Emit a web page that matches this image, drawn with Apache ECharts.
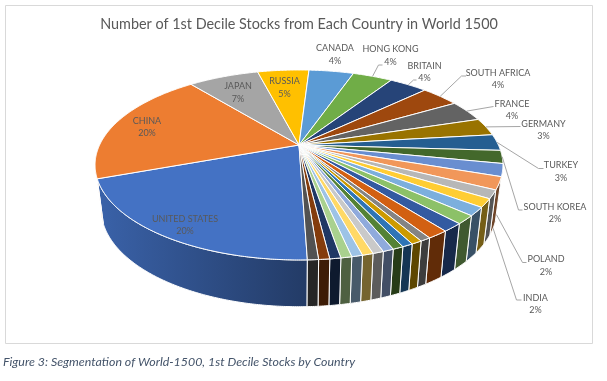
<!DOCTYPE html>
<html>
<head>
<meta charset="utf-8">
<style>
  html, body { margin: 0; padding: 0; background: #fff; }
  #chart { width: 607px; height: 381px; }
</style>
</head>
<body>
<div id="chart"></div>
<script src="https://cdn.jsdelivr.net/npm/echarts@6/dist/echarts.min.js"></script>
<script>
const titleText = "Number of 1st Decile Stocks from Each Country in World 1500";
const captionText = "Figure 3: Segmentation of World-1500, 1st Decile Stocks by Country";

// only the first 14 slices carry a label in the picture
const countries = ["UNITED STATES", "CHINA", "JAPAN", "RUSSIA", "CANADA", "HONG KONG", "BRITAIN",
  "SOUTH AFRICA", "FRANCE", "GERMANY", "TURKEY", "SOUTH KOREA", "POLAND", "INDIA"];
const stocks = [28, 27.8, 9.6, 7, 6.1, 5.4, 5.2, 5.2, 5.1, 4.2, 3.9, 3.1, 3, 3, 2, 2, 2, 2, 2, 2, 1, 1, 1, 1, 1, 1, 1, 1, 1, 1, 1, 1];
const colors = ["#4472C4", "#ED7D31", "#A5A5A5", "#FFC000", "#5B9BD5", "#70AD47", "#264478", "#9E480E",
  "#636363", "#997300", "#255E91", "#43682B", "#698ED0", "#F1975A", "#B7B7B7", "#FFCD33", "#7CAFDD", "#8CC168",
  "#335AA1", "#D26012", "#848484", "#CC9A00", "#2E75B6", "#548235", "#8FAADC", "#C9C9C9", "#FFD966", "#9DC3E6",
  "#A9D18E", "#1F3864", "#843C0C", "#525252"];

// label centres and leader elbows, same order as countries
const labelCenters = [[185, 225], [147, 127], [238, 92.5], [284.5, 87.5], [335, 54.5], [390.5, 55.5], [424.5, 72],
  [498, 79], [512, 110], [543.5, 130], [561, 171.5], [555, 213], [546, 265.5], [535.5, 304]];
const leaders = [null, null, null, null, null,
  [[378.5, 65], [382.5, 65]],
  [[413.5, 80], [416.5, 80]],
  [[461.5, 76], [466, 76]],
  [[493.5, 106.5]],
  [[520.5, 126.5]],
  [[538.5, 168.5], [543.5, 168.5]],
  [[518.5, 210], [522.5, 210]],
  [[522.5, 262.5], [526.5, 262.5]],
  [[516.5, 300], [521.5, 300]]];
const leaderFromBase = ["POLAND", "INDIA"];

const firstAngle = 178.1;
const persp = 0.21;
const topDisc = { cx: 299, cy: 145, a: 199.4, b: 90.8 };
const baseDisc = { cx: 299, cy: 189, a: 193.4, b: 93 };
const wallFrom = 462; // 102deg, on the same unwrapped scale as the slices

const total = stocks.reduce((s, v) => s + v, 0);
const angles = [];
let run = firstAngle;
stocks.forEach((v) => {
  angles.push([run, run + v / total * 360]);
  run += v / total * 360;
});

function project (disc, deg) {
  const r = deg * Math.PI / 180;
  const w = 1 + persp * Math.cos(r);
  return [disc.cx + disc.a * Math.sin(r) / w, disc.cy - disc.b * Math.cos(r) / w];
}

function arc (disc, from, to) {
  const pts = [];
  const n = Math.max(1, Math.ceil((to - from) / 0.5));
  for (let i = 0; i <= n; i++) pts.push(project(disc, from + (to - from) * i / n));
  return pts;
}

function shade (hex, f) {
  const n = parseInt(hex.slice(1), 16);
  return `rgb(${Math.round((n >> 16) * f)},${Math.round(((n >> 8) & 255) * f)},${Math.round((n & 255) * f)})`;
}

function wallFill (i) {
  if (i === 0) {
    return new echarts.graphic.LinearGradient(0, 0, 1, 0, [
      { offset: 0, color: shade(colors[i], 0.86) },
      { offset: 1, color: shade(colors[i], 0.52) },
    ]);
  }
  return shade(colors[i], i === 1 ? 0.86 : 0.46);
}

function renderWall (params, api) {
  const i = api.value(0);
  let [from, to] = angles[i];
  if (i === 1) to = Math.min(to, 258);
  if (i > 1) from = Math.max(from, wallFrom);
  if (from >= to) return null;
  const pts = arc(topDisc, from, to).concat(arc(baseDisc, from, to).reverse());
  return {
    type: "polygon",
    shape: { points: pts },
    style: { fill: wallFill(i), stroke: "#fff", lineWidth: 1 },
  };
}

function renderTop (params, api) {
  const i = api.value(0);
  const pts = [[topDisc.cx, topDisc.cy]].concat(arc(topDisc, angles[i][0], angles[i][1]));
  return {
    type: "polygon",
    shape: { points: pts },
    style: { fill: colors[i], stroke: "#fff", lineWidth: 1 },
  };
}

function renderLabel (params, api) {
  const i = api.value(0);
  if (i >= countries.length) return null;
  const children = [];
  if (leaders[i]) {
    const mid = (angles[i][0] + angles[i][1]) / 2;
    const disc = leaderFromBase.includes(countries[i]) ? baseDisc : topDisc;
    children.push({
      type: "polyline",
      shape: { points: [project(disc, mid)].concat(leaders[i]) },
      style: { fill: "none", stroke: "#A6A6A6", lineWidth: 1 },
    });
  }
  children.push({
    type: "text",
    x: labelCenters[i][0],
    y: labelCenters[i][1],
    style: {
      text: countries[i] + "\n" + Math.round(api.value(1) / total * 100) + "%",
      fill: "#595959",
      font: "9px Lato",
      lineHeight: 12.5,
      align: "center",
      verticalAlign: "middle",
    },
  });
  return { type: "group", children };
}

const rows = stocks.map((v, i) => [i, v]);
const chart = echarts.init(document.getElementById("chart"), null, { renderer: "canvas" });
chart.setOption({
  backgroundColor: "#fff",
  animation: false,
  title: [
    {
      text: titleText,
      left: 299,
      top: 17,
      padding: 0,
      textAlign: "center",
      textStyle: { color: "#595959", fontFamily: "Lato", fontSize: 14.4, fontWeight: "normal" },
    },
    {
      text: captionText,
      left: 3,
      top: 356,
      padding: 0,
      textStyle: { color: "#44546A", fontFamily: "Lato", fontSize: 12.4, fontStyle: "italic", fontWeight: "normal" },
    },
  ],
  graphic: [
    {
      type: "rect",
      shape: { x: 5.5, y: 5.5, width: 587, height: 338 },
      style: { fill: "none", stroke: "#D9D9D9", lineWidth: 1 },
      silent: true,
    },
  ],
  series: [
    { type: "custom", coordinateSystem: "none", data: rows, renderItem: renderWall, silent: true, z: 1 },
    { type: "custom", coordinateSystem: "none", data: rows, renderItem: renderTop, silent: true, z: 2 },
    { type: "custom", coordinateSystem: "none", data: rows, renderItem: renderLabel, silent: true, z: 3 },
  ],
});
</script>
</body>
</html>
